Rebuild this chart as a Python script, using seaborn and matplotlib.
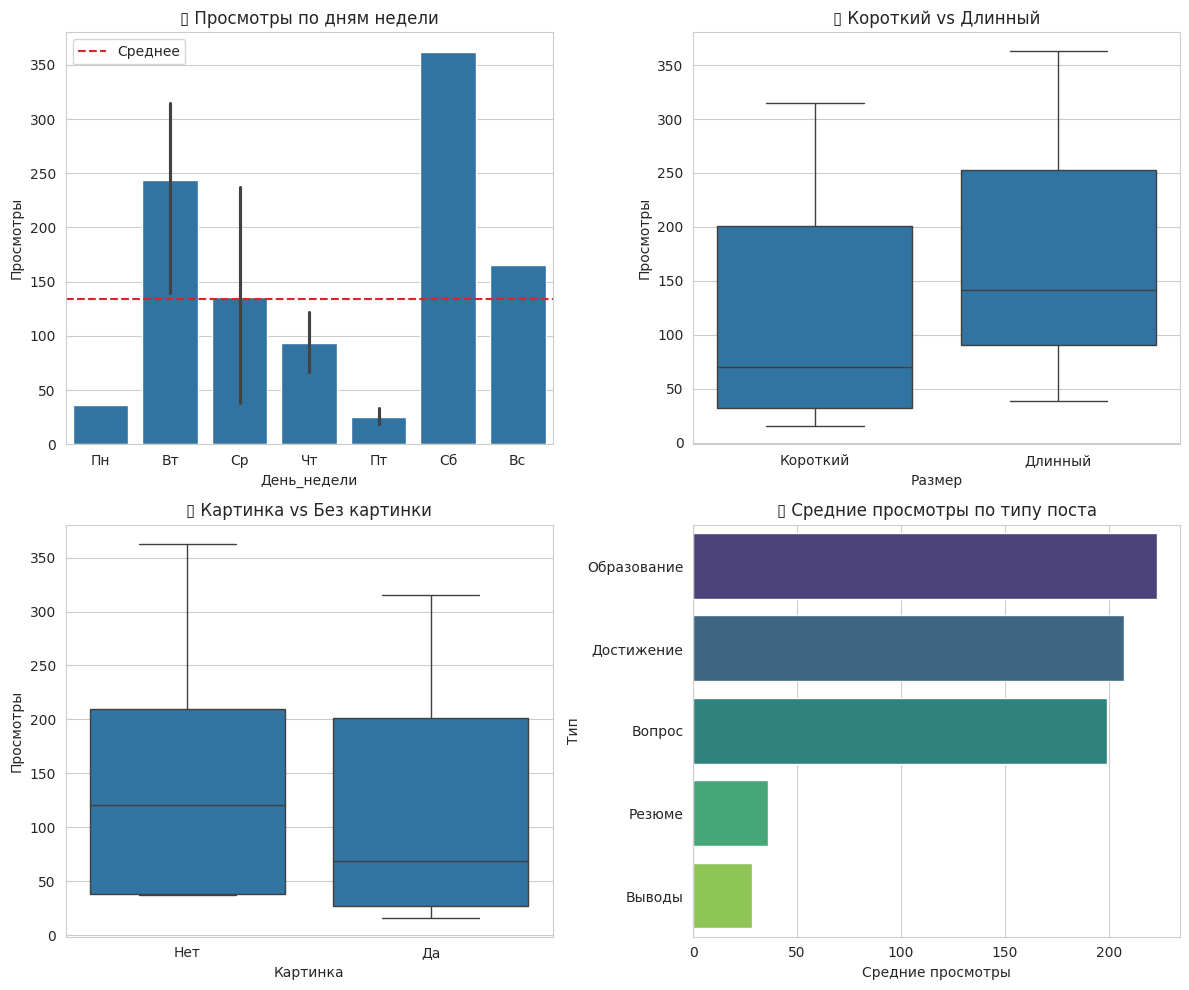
import pandas as pd
import matplotlib
matplotlib.use("Agg")
import matplotlib.pyplot as plt
import seaborn as sns

# --- данные ---
days = ["Пн", "Вт", "Ср", "Чт", "Пт", "Сб", "Вс"]

# просмотры отдельных постов по дням недели
post_days = ["Пн",
             "Вт", "Вт", "Вт",
             "Ср", "Ср", "Ср",
             "Чт", "Чт", "Чт",
             "Пт", "Пт", "Пт",
             "Сб",
             "Вс"]
post_views = [36,
              140, 276, 315,
              38, 133, 237,
              67, 91, 122,
              19, 24, 33,
              362,
              165]
views_mean = 133.8

# короткий / длинный пост
short_views = [16, 32, 70, 201, 315]
long_views = [39, 91, 142, 253, 363]

# с картинкой / без картинки
no_pic_views = [37, 38, 121, 210, 363]
pic_views = [16, 27, 69, 201, 315]

# средние просмотры по типу поста
post_types = ["Образование", "Достижение", "Вопрос", "Резюме", "Выводы"]
type_means = [223, 207, 199, 36, 28.5]

df_days = pd.DataFrame({"День_недели": post_days, "Просмотры": post_views})
df_size = pd.DataFrame({
    "Размер": ["Короткий"] * len(short_views) + ["Длинный"] * len(long_views),
    "Просмотры": short_views + long_views,
})
df_pic = pd.DataFrame({
    "Картинка": ["Нет"] * len(no_pic_views) + ["Да"] * len(pic_views),
    "Просмотры": no_pic_views + pic_views,
})
df_type = pd.DataFrame({"Тип": post_types, "Средние просмотры": type_means})

sns.set_style("whitegrid")
plt.rcParams["font.family"] = ["DejaVu Sans"]

# эмодзи в заголовках нет ни в одном шрифте -> пустой прямоугольник
icon = "\u25af"

fig, axes = plt.subplots(2, 2, figsize=(12, 10), dpi=100)

# 1. просмотры по дням недели
ax = axes[0, 0]
sns.barplot(data=df_days, x="День_недели", y="Просмотры", order=days,
            errorbar=("ci", 95), seed=42, ax=ax)
ax.axhline(views_mean, color="tab:red", linestyle="--", label="Среднее")
ax.legend(loc="upper left")
ax.set_title(f"{icon} Просмотры по дням недели")

# 2. короткий vs длинный
ax = axes[0, 1]
sns.boxplot(data=df_size, x="Размер", y="Просмотры", ax=ax)
ax.set_title(f"{icon} Короткий vs Длинный")

# 3. картинка vs без картинки
ax = axes[1, 0]
sns.boxplot(data=df_pic, x="Картинка", y="Просмотры", ax=ax)
ax.set_title(f"{icon} Картинка vs Без картинки")

# 4. средние просмотры по типу поста
ax = axes[1, 1]
sns.barplot(data=df_type, x="Средние просмотры", y="Тип", hue="Тип",
            palette="viridis", legend=False, ax=ax)
ax.set_title(f"{icon} Средние просмотры по типу поста")

plt.tight_layout()
plt.savefig("out.png", dpi=100, bbox_inches="tight")
